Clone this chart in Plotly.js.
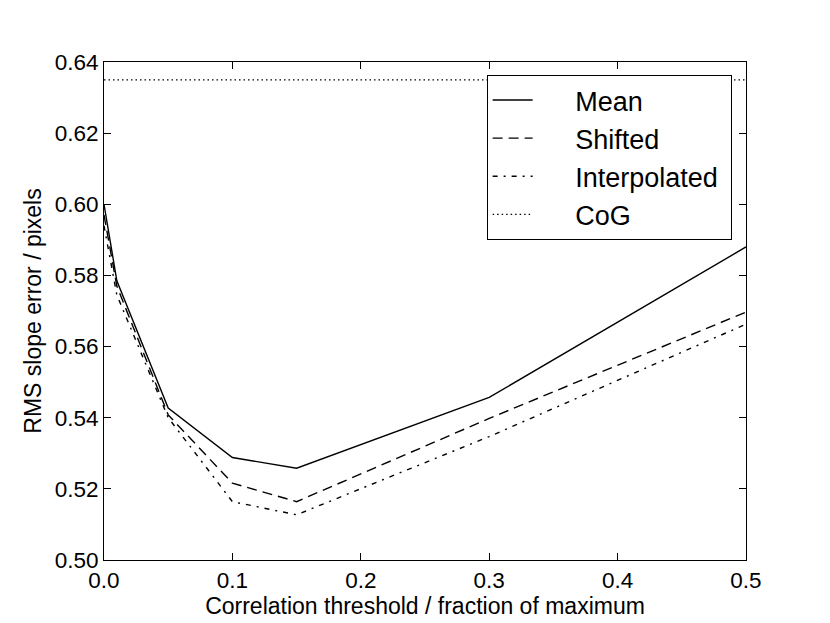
<!DOCTYPE html>
<html>
<head>
<meta charset="utf-8">
<script src="https://cdn.plot.ly/plotly-3.0.1.min.js"></script>
<style>
  html, body { margin: 0; padding: 0; background: #fff; }
  #chart { width: 830px; height: 623px; }
</style>
</head>
<body>
<div id="chart"></div>
<script>
// ── RMS slope error vs correlation threshold ──

const thresholds   = [0.0, 0.01, 0.05, 0.1, 0.15, 0.3, 0.5];
const meanErr      = [0.600, 0.5785, 0.5427, 0.5288, 0.5258, 0.5457, 0.5880];
const shiftedErr   = [0.597, 0.5770, 0.5408, 0.5216, 0.5164, 0.5398, 0.5697];
const interpErr    = [0.594, 0.5745, 0.5400, 0.5164, 0.5127, 0.5347, 0.5663];
const cogX         = [0.0, 0.5];
const cogErr       = [0.635, 0.635];

const FONT = 'Liberation Sans, Arial, Helvetica, sans-serif';
const PAD  = '\u00a0\u00a0\u00a0\u00a0\u00a0';   // pousse le texte de la légende vers la droite

const lineTrace = (name, x, y, dash, width) => ({
    type: 'scatter',
    mode: 'lines',
    name: PAD + name + '\u00a0',
    x: x,
    y: y,
    legendgroup: name,
    line: { color: '#000', width: width, dash: dash },
    hoverinfo: 'skip',
});

const traces = [
    lineTrace('Mean',         thresholds, meanErr,    'solid',           1.4),
    lineTrace('Shifted',      thresholds, shiftedErr, '10px,6px',        1.4),
    lineTrace('Interpolated', thresholds, interpErr,  '5px,6px,2px,6px', 1.4),
    lineTrace('CoG',          cogX,       cogErr,     '1.5px,3px',       1.2),
];

const axisCommon = {
    showgrid: false,
    zeroline: false,
    showline: true,
    linecolor: '#000',
    linewidth: 1,
    mirror: 'ticks',
    ticks: 'inside',
    ticklen: 7,
    tickwidth: 1,
    tickcolor: '#000',
    tickfont: { family: FONT, size: 22.5, color: '#000' },
};

const layout = {
    width: 830,
    height: 623,
    paper_bgcolor: '#fff',
    plot_bgcolor: '#fff',
    margin: { l: 104, r: 84, t: 62, b: 63 },
    font: { family: FONT, color: '#000' },
    showlegend: true,
    legend: {
        x: 0.596, y: 0.974,
        xanchor: 'left', yanchor: 'top',
        bgcolor: '#fff',
        bordercolor: '#000',
        borderwidth: 1,
        font: { family: FONT, size: 27, color: '#000' },
        tracegroupgap: 0,
        itemwidth: 40,
    },
    xaxis: Object.assign({}, axisCommon, {
        range: [0, 0.5],
        tickvals: [0, 0.1, 0.2, 0.3, 0.4, 0.5],
        ticktext: ['0.0', '0.1', '0.2', '0.3', '0.4', '0.5'],
        title: { text: 'Correlation threshold / fraction of maximum', font: { family: FONT, size: 23 }, standoff: 0 },
    }),
    yaxis: Object.assign({}, axisCommon, {
        range: [0.50, 0.64],
        tickvals: [0.50, 0.52, 0.54, 0.56, 0.58, 0.60, 0.62, 0.64],
        ticktext: ['0.50', '0.52', '0.54', '0.56', '0.58', '0.60', '0.62', '0.64'],
        title: { text: 'RMS slope error / pixels', font: { family: FONT, size: 23 }, standoff: 6 },
    }),
};

Plotly.newPlot('chart', traces, layout, { displayModeBar: false, staticPlot: true });
</script>
</body>
</html>
